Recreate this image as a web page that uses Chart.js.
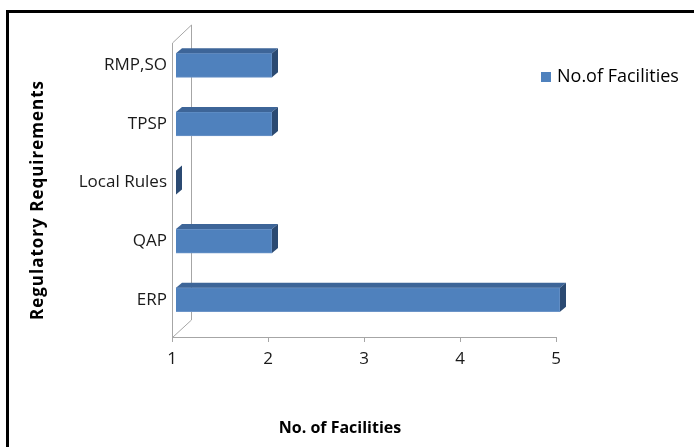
<!DOCTYPE html>
<html>
<head>
  <meta name="viewport" content="width=device-width, initial-scale=1.0">
  <title>Regulatory Requirements</title>
  <script src="https://cdn.jsdelivr.net/npm/chart.js"></script>
  <style>
    body {
      margin: 0;
      background: #fff;
      overflow: hidden;
    }
    #frame {
      position: absolute;
      left: 6px;
      top: 10px;
      width: 720px;
      height: 480px;
      border-left: 3px solid #000;
      border-top: 3px solid #000;
    }
    #chartCanvas {
      position: absolute;
      left: 0;
      top: 0;
    }
  </style>
</head>
<body>
  <div id="frame"></div>
  <canvas id="chartCanvas" width="694" height="447"></canvas>

  <script>
    const categories = ["RMP,SO", "TPSP", "Local Rules", "QAP", "ERP"];
    const facilities = [2, 2, 1, 2, 5];
    const xTicks = [1, 2, 3, 4, 5];
    const seriesName = "No.of Facilities";
    const xTitle = "No. of Facilities";
    const yTitle = "Regulatory Requirements";

    const front = "#4f81bd";
    const topFace = "#3d6598";
    const sideFace = "#2b4a72";
    const wallColor = "#a6a6a6";
    const labelFont = "'Open Sans', sans-serif";

    // 3D look: back walls, bar depth faces, titles and legend
    const depthPlugin = {
      id: "depth",
      beforeDatasetsDraw(chart) {
        const ctx = chart.ctx;
        const area = chart.chartArea;
        const xs = chart.scales.x;
        const x0 = xs.getPixelForValue(xs.min);
        const floorY = area.bottom + 8;
        const topY = area.top + 7;
        const wx = 19, wy = 18;

        ctx.save();
        ctx.strokeStyle = wallColor;
        ctx.lineWidth = 1;
        ctx.beginPath();
        ctx.moveTo(x0 + 0.5, floorY + 0.5);
        ctx.lineTo(x0 + 0.5, topY);
        ctx.lineTo(x0 + wx + 0.5, topY - wy);
        ctx.lineTo(x0 + wx + 0.5, floorY - wy + 1);
        ctx.lineTo(x0 + 0.5, floorY + 0.5);
        ctx.moveTo(x0, floorY + 0.5);
        ctx.lineTo(xs.getPixelForValue(xs.max) + 0.5, floorY + 0.5);
        xTicks.forEach(v => {
          const px = Math.round(xs.getPixelForValue(v)) + 0.5;
          ctx.moveTo(px, floorY);
          ctx.lineTo(px, floorY + 5);
        });
        ctx.stroke();
        ctx.restore();

        ctx.save();
        ctx.translate(4, 0);
      },
      afterDatasetsDraw(chart) {
        const ctx = chart.ctx;
        const dx = 6, dy = 5;
        const meta = chart.getDatasetMeta(0);
        meta.data.forEach(bar => {
          const p = bar.getProps(["x", "y", "base", "height"], true);
          const l = Math.min(p.x, p.base);
          const r = Math.max(p.x, p.base);
          const t = p.y - p.height / 2;
          const b = p.y + p.height / 2;
          ctx.fillStyle = topFace;
          ctx.beginPath();
          ctx.moveTo(l, t);
          ctx.lineTo(l + dx, t - dy);
          ctx.lineTo(r + dx, t - dy);
          ctx.lineTo(r, t);
          ctx.closePath();
          ctx.fill();
          ctx.fillStyle = sideFace;
          ctx.beginPath();
          ctx.moveTo(r, t);
          ctx.lineTo(r + dx, t - dy);
          ctx.lineTo(r + dx, b - dy);
          ctx.lineTo(r, b);
          ctx.closePath();
          ctx.fill();
        });
        ctx.restore();
      },
      afterDraw(chart) {
        const ctx = chart.ctx;
        const area = chart.chartArea;
        ctx.save();
        ctx.fillStyle = "#000";
        ctx.font = "bold 16px " + labelFont;
        ctx.textAlign = "center";
        ctx.textBaseline = "middle";
        ctx.fillText(xTitle, 340, 428);
        ctx.translate(38, 200);
        ctx.rotate(-Math.PI / 2);
        ctx.font = "bold 17px " + labelFont;
        ctx.letterSpacing = "1px";
        ctx.fillText(yTitle, 0, 0);
        ctx.restore();

        ctx.save();
        ctx.fillStyle = front;
        ctx.fillRect(area.right - 15, 72, 10, 10);
        ctx.fillStyle = "#000";
        ctx.font = "18px " + labelFont;
        ctx.textAlign = "left";
        ctx.textBaseline = "middle";
        ctx.fillText(seriesName, area.right + 1, 77);
        ctx.restore();
      }
    };

    const ctx = document.getElementById("chartCanvas").getContext("2d");
    new Chart(ctx, {
      type: "bar",
      data: {
        labels: categories,
        datasets: [{
          label: seriesName,
          data: facilities,
          base: 1,
          backgroundColor: front,
          borderColor: "#6b94c8",
          borderWidth: 1,
          barThickness: 24
        }]
      },
      options: {
        indexAxis: "y",
        responsive: false,
        animation: false,
        layout: {
          padding: { top: 36, right: 138, bottom: 0, left: 0 }
        },
        plugins: {
          legend: { display: false },
          tooltip: { enabled: false }
        },
        scales: {
          x: {
            min: 1,
            max: 5,
            afterFit: s => { s.height = 118; },
            afterBuildTicks: s => { s.ticks = xTicks.map(v => ({ value: v })); },
            grid: { display: false, drawTicks: false, tickLength: 0 },
            border: { display: false },
            ticks: {
              padding: 20,
              color: "#1a1a1a",
              font: { family: labelFont, size: 17 }
            }
          },
          y: {
            afterFit: s => { s.width = 172; },
            grid: { display: false, drawTicks: false, tickLength: 0 },
            border: { display: false },
            ticks: {
              padding: 5,
              color: "#1a1a1a",
              font: { family: labelFont, size: 17 }
            }
          }
        }
      },
      plugins: [depthPlugin]
    });
  </script>
</body>
</html>
